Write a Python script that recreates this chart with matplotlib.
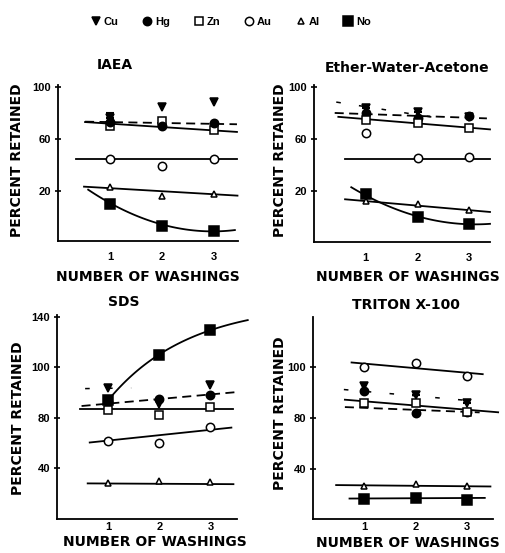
import numpy as np
import matplotlib
matplotlib.use("Agg")
import matplotlib.pyplot as plt
from matplotlib.lines import Line2D

W, H = 506, 553

WASH = [1, 2, 3]
SERIES = ["Cu", "Hg", "Zn", "Au", "Al", "No"]

# ---------------- IAEA ----------------
IAEA_CU = [76.0, 84.6, 88.5]
IAEA_CU_ERR = [3.5, 0, 0]
IAEA_HG = [73.1, 69.8, 71.8]
IAEA_ZN = [70.0, 73.6, 66.7]
IAEA_AU = [44.2, 39.3, 44.2]
IAEA_AL = [22.6, 15.9, 17.5]
IAEA_NO = [9.8, -6.9, -11.0]
IAEA_DASH_X, IAEA_DASH_Y = [0.52, 3.44], [73.1, 71.1]
IAEA_SOLID_X, IAEA_SOLID_Y = [0.52, 3.44], [72.8, 65.2]
IAEA_AUFIT_X, IAEA_AUFIT_Y = [0.35, 3.45], [44.2, 44.2]
IAEA_ALFIT_X, IAEA_ALFIT_Y = [0.5, 3.45], [23.1, 16.2]
IAEA_NO_QUAD = [5.6, -33.3, 38.2]
IAEA_NO_RANGE = [0.58, 3.4]

# ---------------- Ether-Water-Acetone ----------------
EWA_CU = [83.7, 81.1, 77.0]
EWA_CU_ERR = [3.0, 2.5, 0]
EWA_HG = [79.9, 76.0, 77.8]
EWA_ZN = [74.7, 72.1, 68.3]
EWA_AU = [64.9, 45.2, 45.8]
EWA_AL = [12.2, 9.7, 5.6]
EWA_NO = [17.6, 0.0, -5.8]
EWA_DASH_X, EWA_DASH_Y = [0.4, 3.34], [80.2, 76.0]
EWA_SOLID_X, EWA_SOLID_Y = [0.47, 3.4], [77.2, 67.5]
EWA_CUFIT_X, EWA_CUFIT_Y = [0.43, 2.6], [88.6, 75.0]
EWA_AUFIT_X, EWA_AUFIT_Y = [0.59, 3.4], [45.0, 45.0]
EWA_ALFIT_X, EWA_ALFIT_Y = [0.6, 3.4], [13.5, 3.7]
EWA_NO_QUAD = [5.0, -31.15, 42.65]
EWA_NO_RANGE = [0.72, 3.4]

# ---------------- SDS ----------------
SDS_CU = [83.7, 70.5, 85.8]
SDS_HG = [72.0, 74.5, 77.9]
SDS_ZN = [65.8, 61.9, 68.4]
SDS_AU = [41.6, 40.3, 52.6]
SDS_AL = [7.9, 10.0, 8.7]
SDS_NO = [73.7, 110.0, 129.2]
SDS_DASH_X, SDS_DASH_Y = [0.48, 3.53], [69.2, 80.3]
SDS_CUFIT_X, SDS_CUFIT_Y = [0.55, 1.45], [83.0, 83.5]
SDS_ZNFIT_X, SDS_ZNFIT_Y = [0.45, 3.45], [66.6, 66.6]
SDS_AUFIT_X, SDS_AUFIT_Y = [0.64, 3.41], [40.3, 52.1]
SDS_ALFIT_X, SDS_ALFIT_Y = [0.6, 3.45], [7.9, 7.3]
SDS_NO_SAT = [150.8, 145.7, 0.637]   # A - B*exp(-k x)
SDS_NO_RANGE = [1.0, 3.73]

# ---------------- TRITON X-100 ----------------
TRI_CU = [85.0, 78.2, 71.7]
TRI_CU_ERR = [0, 2.0, 2.0]
TRI_HG = [81.5, 63.8, 65.0]
TRI_ZN = [71.7, 71.7, 65.0]
TRI_AU = [100.0, 103.1, 93.1]
TRI_AL = [6.5, 7.9, 6.0]
TRI_NO = [-3.7, -3.1, -4.5]
TRI_SOLID_X, TRI_SOLID_Y = [0.62, 3.6], [74.3, 64.4]
TRI_DASH_X, TRI_DASH_Y = [0.62, 3.24], [68.5, 64.3]
TRI_CUFIT_X, TRI_CUFIT_Y = [0.6, 3.2], [82.3, 73.0]
TRI_AUFIT_X, TRI_AUFIT_Y = [0.75, 3.3], [103.6, 94.4]
TRI_ALFIT_X, TRI_ALFIT_Y = [0.45, 3.45], [7.1, 6.0]
TRI_NOFIT_X, TRI_NOFIT_Y = [0.71, 3.34], [-3.5, -3.0]

Y_TICKS_A = [20, 60, 100]
Y_LABELS_A = ["20", "60", "100"]
Y_TICKS_SDS = [20, 60, 100, 140]
Y_LABELS_SDS = ["40", "80", "100", "140"]
Y_TICKS_TRI = [20, 60, 100]
Y_LABELS_TRI = ["40", "80", "100"]

MARKERS = {
    "Cu": dict(marker="v", ms=5.5, mfc="black"),
    "Hg": dict(marker="o", ms=6, mfc="black"),
    "Zn": dict(marker="s", ms=6, mfc="white"),
    "Au": dict(marker="o", ms=6, mfc="white"),
    "Al": dict(marker="^", ms=5, mfc="white"),
    "No": dict(marker="s", ms=7, mfc="black"),
}

BOLD = dict(family="DejaVu Sans", weight="bold")

fig = plt.figure(figsize=(W / 100, H / 100), dpi=100)


def px(x, y):
    return x / W, 1 - y / H


def make_ax(left, top, right, bottom, xmax, ylim, yt, yl, xpad):
    ax = fig.add_axes([left / W, 1 - bottom / H, (right - left) / W, (bottom - top) / H])
    ax.set_xlim(0, xmax)
    ax.set_ylim(*ylim)
    for s in ["top", "right"]:
        ax.spines[s].set_visible(False)
    for s in ["left", "bottom"]:
        ax.spines[s].set_linewidth(1.3)
    ax.set_xticks(WASH)
    ax.set_xticklabels([str(v) for v in WASH])
    ax.set_yticks(yt)
    ax.set_yticklabels(yl)
    ax.tick_params(axis="x", length=0, pad=xpad)
    ax.tick_params(axis="y", direction="inout", length=5, width=1.2, pad=2.5)
    for lab in ax.get_xticklabels() + ax.get_yticklabels():
        lab.set_fontfamily("Liberation Sans")
        lab.set_fontweight("bold")
        lab.set_fontsize(8)
    return ax


def line(ax, xs, ys, style="solid"):
    if style == "dash":
        ax.plot(xs, ys, color="black", lw=1.3, dashes=(5, 3), clip_on=False, zorder=2)
    elif style == "loose":
        ax.plot(xs, ys, color="black", lw=1.1, dashes=(3, 12), clip_on=False, zorder=2)
    else:
        ax.plot(xs, ys, color="black", lw=1.3, clip_on=False, zorder=2)


def quad(ax, coef, rng):
    xs = np.linspace(rng[0], rng[1], 100)
    ax.plot(xs, np.polyval(coef, xs), color="black", lw=1.3, clip_on=False, zorder=2)


def points(ax, name, vals, err=None):
    st = MARKERS[name]
    if err is not None:
        e = np.asarray(err, float)
        m = e > 0
        x = np.asarray(WASH, float)[m]
        y = np.asarray(vals, float)[m]
        ax.errorbar(x, y, yerr=[np.zeros_like(e[m]), e[m]], fmt="none",
                    ecolor="black", elinewidth=1.3, capsize=3, capthick=1.5, zorder=3)
    ax.plot(WASH, vals, linestyle="none", color="black", mec="black", mew=1.1,
            clip_on=False, zorder=4, **st)


# ---- Panel 1 IAEA ----
ax1 = make_ax(58, 85, 238, 241, 3.46, (-18.7, 101.3), Y_TICKS_A, Y_LABELS_A, 8)
line(ax1, IAEA_DASH_X, IAEA_DASH_Y, "dash")
line(ax1, IAEA_SOLID_X, IAEA_SOLID_Y)
line(ax1, IAEA_AUFIT_X, IAEA_AUFIT_Y)
line(ax1, IAEA_ALFIT_X, IAEA_ALFIT_Y)
quad(ax1, IAEA_NO_QUAD, IAEA_NO_RANGE)
points(ax1, "Cu", IAEA_CU, IAEA_CU_ERR)
points(ax1, "Zn", IAEA_ZN)
points(ax1, "Hg", IAEA_HG)
points(ax1, "Au", IAEA_AU)
points(ax1, "Al", IAEA_AL)
points(ax1, "No", IAEA_NO)

# ---- Panel 2 Ether-Water-Acetone ----
ax2 = make_ax(314, 85, 490, 242, 3.40, (-19.5, 101.8), Y_TICKS_A, Y_LABELS_A, 8)
line(ax2, EWA_DASH_X, EWA_DASH_Y, "dash")
line(ax2, EWA_SOLID_X, EWA_SOLID_Y)
line(ax2, EWA_CUFIT_X, EWA_CUFIT_Y, "loose")
line(ax2, EWA_AUFIT_X, EWA_AUFIT_Y)
line(ax2, EWA_ALFIT_X, EWA_ALFIT_Y)
quad(ax2, EWA_NO_QUAD, EWA_NO_RANGE)
points(ax2, "Cu", EWA_CU, EWA_CU_ERR)
points(ax2, "Hg", EWA_HG)
points(ax2, "Zn", EWA_ZN)
points(ax2, "Au", EWA_AU)
points(ax2, "Al", EWA_AL)
points(ax2, "No", EWA_NO)

# ---- Panel 3 SDS ----
ax3 = make_ax(57, 315, 237, 519, 3.52, (-20.3, 141.3), Y_TICKS_SDS, Y_LABELS_SDS, 2.5)
line(ax3, SDS_DASH_X, SDS_DASH_Y, "dash")
line(ax3, SDS_CUFIT_X, SDS_CUFIT_Y, "loose")
line(ax3, SDS_ZNFIT_X, SDS_ZNFIT_Y)
line(ax3, SDS_AUFIT_X, SDS_AUFIT_Y)
line(ax3, SDS_ALFIT_X, SDS_ALFIT_Y)
xs = np.linspace(SDS_NO_RANGE[0], SDS_NO_RANGE[1], 100)
A, B, K = SDS_NO_SAT
ax3.plot(xs, A - B * np.exp(-K * xs), color="black", lw=1.3, clip_on=False, zorder=2)
points(ax3, "Cu", SDS_CU)
points(ax3, "Hg", SDS_HG)
points(ax3, "Zn", SDS_ZN)
points(ax3, "Au", SDS_AU)
points(ax3, "Al", SDS_AL)
points(ax3, "No", SDS_NO)

# ---- Panel 4 TRITON X-100 ----
ax4 = make_ax(313, 317, 493, 519, 3.50, (-19.6, 139.4), Y_TICKS_TRI, Y_LABELS_TRI, 2.5)
line(ax4, TRI_SOLID_X, TRI_SOLID_Y)
line(ax4, TRI_DASH_X, TRI_DASH_Y, "dash")
line(ax4, TRI_CUFIT_X, TRI_CUFIT_Y, "loose")
line(ax4, TRI_AUFIT_X, TRI_AUFIT_Y)
line(ax4, TRI_ALFIT_X, TRI_ALFIT_Y)
line(ax4, TRI_NOFIT_X, TRI_NOFIT_Y)
points(ax4, "Cu", TRI_CU, TRI_CU_ERR)
points(ax4, "Hg", TRI_HG)
points(ax4, "Zn", TRI_ZN)
points(ax4, "Au", TRI_AU)
points(ax4, "Al", TRI_AL)
points(ax4, "No", TRI_NO)

# ---- texts ----
TITLES = ["IAEA", "Ether-Water-Acetone", "SDS", "TRITON X-100"]
TITLE_POS = [(115, 65), (407, 68), (124, 302), (406, 305)]
for t, (x, y) in zip(TITLES, TITLE_POS):
    fig.text(*px(x, y), t, ha="center", va="center", fontsize=10, **BOLD)

XLAB_POS = [(148, 277), (408, 277), (155, 542), (408, 543)]
for (x, y) in XLAB_POS:
    fig.text(*px(x, y), "NUMBER OF WASHINGS", ha="center", va="center", fontsize=10, **BOLD)

YLAB_POS = [(17, 160), (280, 160), (18, 418), (280, 413)]
for (x, y) in YLAB_POS:
    fig.text(*px(x, y), "PERCENT RETAINED", ha="center", va="center", rotation=90,
             fontsize=10, **BOLD)

# ---- legend ----
handles = [Line2D([], [], linestyle="none", color="black", mec="black", mew=1.1,
                  **MARKERS[s]) for s in SERIES]
fig.legend(handles, SERIES, ncol=6, loc="center", bbox_to_anchor=px(231, 22),
           frameon=False, handlelength=0.8, handletextpad=0.3, columnspacing=2.2,
           prop=dict(family="Liberation Sans", weight="bold", size=8))

fig.savefig("out.png", dpi=100)
